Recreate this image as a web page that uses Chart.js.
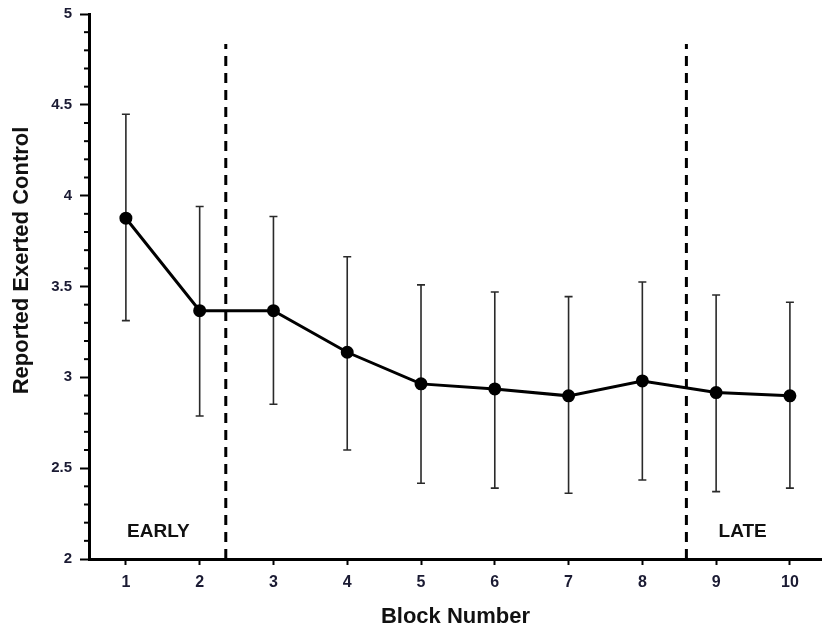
<!DOCTYPE html>
<html>
<head>
<meta charset="utf-8">
<script src="https://cdn.jsdelivr.net/npm/chart.js@4"></script>
<style>
  html, body { margin: 0; padding: 0; background: #fff; }
  #wrap { width: 822px; height: 631px; position: relative; }
</style>
</head>
<body>
<div id="wrap"><canvas id="controlChart"></canvas></div>
<script>
const blocks = [1, 2, 3, 4, 5, 6, 7, 8, 9, 10];
const means = [3.876, 3.367, 3.367, 3.138, 2.964, 2.936, 2.898, 2.98, 2.916, 2.898];
const upper = [4.448, 3.94, 3.885, 3.664, 3.509, 3.47, 3.444, 3.525, 3.453, 3.413];
const lower = [3.312, 2.787, 2.852, 2.60, 2.417, 2.39, 2.362, 2.435, 2.371, 2.39];
const yMajorTicks = [2, 2.5, 3, 3.5, 4, 4.5, 5];
const yMinorTicks = [2.1, 2.2, 2.3, 2.4, 2.6, 2.7, 2.8, 2.9, 3.1, 3.2, 3.3, 3.4,
  3.6, 3.7, 3.8, 3.9, 4.1, 4.2, 4.3, 4.4, 4.6, 4.7, 4.8, 4.9];
const phaseBreaks = [2.354, 8.597];
const phaseTop = 4.835;
const phaseLabels = [
  { text: 'EARLY', x: 1.44, y: 2.15 },
  { text: 'LATE', x: 9.36, y: 2.15 }
];
const yTitle = 'Reported Exerted Control';

const ink = '#000';
const tickInk = '#1b1b33';
const fontFamily = '"Liberation Sans", Arial, sans-serif';

// error bars under the points, minor y ticks, phase labels, y title
const extras = {
  id: 'extras',
  beforeDatasetsDraw(chart) {
    const { ctx, scales: { x, y } } = chart;
    ctx.save();
    ctx.strokeStyle = '#2a2a2a';
    ctx.lineWidth = 1.6;
    blocks.forEach((b, i) => {
      const px = x.getPixelForValue(b);
      const top = y.getPixelForValue(upper[i]);
      const bot = y.getPixelForValue(lower[i]);
      ctx.beginPath();
      ctx.moveTo(px, top); ctx.lineTo(px, bot);
      ctx.moveTo(px - 4, top); ctx.lineTo(px + 4, top);
      ctx.moveTo(px - 4, bot); ctx.lineTo(px + 4, bot);
      ctx.stroke();
    });
    ctx.restore();
  },
  afterDraw(chart) {
    const { ctx, chartArea, scales: { x, y } } = chart;
    ctx.save();
    ctx.strokeStyle = ink;
    ctx.lineWidth = 2;
    yMinorTicks.forEach(v => {
      const py = y.getPixelForValue(v);
      ctx.beginPath();
      ctx.moveTo(chartArea.left - 5, py);
      ctx.lineTo(chartArea.left, py);
      ctx.stroke();
    });
    ctx.fillStyle = '#111';
    ctx.font = `bold 19px ${fontFamily}`;
    ctx.textAlign = 'center';
    ctx.textBaseline = 'middle';
    phaseLabels.forEach(l => {
      ctx.fillText(l.text, x.getPixelForValue(l.x), y.getPixelForValue(l.y));
    });
    // axis title sits a little above the axis midpoint in the original
    ctx.font = `bold 22px ${fontFamily}`;
    ctx.translate(22, (chartArea.top + chartArea.bottom) / 2 - 26);
    ctx.rotate(-Math.PI / 2);
    ctx.fillText(yTitle, 0, 0);
    ctx.restore();
  }
};

const phaseSets = phaseBreaks.map(v => ({
  data: [{ x: v, y: 2 }, { x: v, y: phaseTop }],
  borderColor: ink,
  borderWidth: 3,
  borderDash: [10, 7],
  pointRadius: 0,
  fill: false
}));

new Chart(document.getElementById('controlChart'), {
  type: 'line',
  data: {
    datasets: [
      {
        label: yTitle,
        data: blocks.map((b, i) => ({ x: b, y: means[i] })),
        borderColor: ink,
        borderWidth: 3,
        pointRadius: 5,
        pointBackgroundColor: ink,
        pointBorderColor: ink,
        fill: false,
        tension: 0
      },
      ...phaseSets
    ]
  },
  options: {
    responsive: true,
    maintainAspectRatio: false,
    animation: false,
    layout: { autoPadding: false, padding: { top: 14, right: 0, bottom: 0, left: 0 } },
    plugins: {
      legend: { display: false },
      tooltip: { enabled: false }
    },
    scales: {
      x: {
        type: 'linear',
        min: 0.5,
        max: 10.435,
        afterBuildTicks: (axis) => { axis.ticks = blocks.map(v => ({ value: v })); },
        afterFit: (scale) => {
          scale.height = 72;
          scale.paddingLeft = 0;
          scale.paddingRight = 0;
        },
        grid: {
          drawOnChartArea: false,
          drawTicks: true,
          tickLength: 6,
          tickWidth: 2,
          tickColor: ink
        },
        border: { display: true, width: 3, color: ink },
        ticks: {
          color: tickInk,
          padding: 8,
          font: { family: fontFamily, size: 16, weight: 'bold' }
        },
        title: {
          display: true,
          text: 'Block Number',
          color: '#111',
          padding: { top: 0, bottom: 1 },
          font: { family: fontFamily, size: 22, weight: 'bold' }
        }
      },
      y: {
        min: 2,
        max: 5,
        afterBuildTicks: (axis) => { axis.ticks = yMajorTicks.map(v => ({ value: v })); },
        afterFit: (scale) => {
          scale.width = 89;
          scale.paddingTop = 0;
          scale.paddingBottom = 0;
        },
        grid: {
          drawOnChartArea: false,
          drawTicks: true,
          tickLength: 9,
          tickWidth: 2,
          tickColor: ink
        },
        border: { display: true, width: 3, color: ink },
        ticks: {
          color: tickInk,
          padding: 8,
          callback: (v) => String(v),
          font: { family: fontFamily, size: 15, weight: 'bold' }
        },
        title: { display: false }
      }
    }
  },
  plugins: [extras]
});
</script>
</body>
</html>
